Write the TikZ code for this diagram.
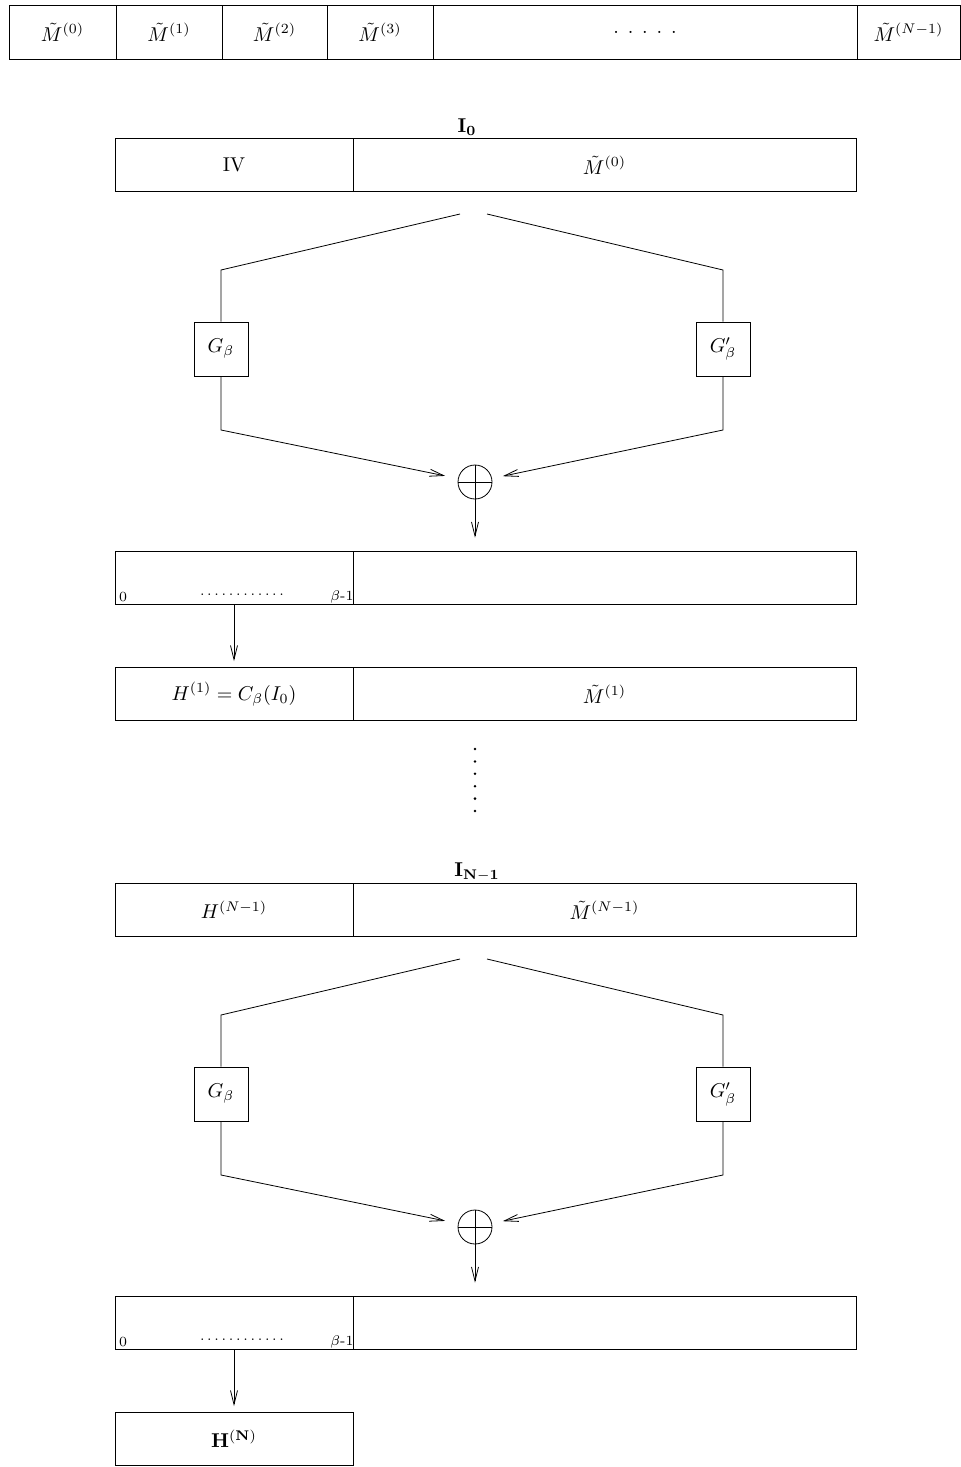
\documentclass[tikz,border=0pt]{standalone}
\usetikzlibrary{arrows.meta}
\tikzset{
	cell/.style={draw, rectangle, inner sep=0pt, minimum height=26.5pt},
	gbox/.style={draw, rectangle, inner sep=0pt, minimum width=27pt, minimum height=27pt},
	xorn/.style={draw, circle, inner sep=0pt, minimum size=17pt,
		path picture={\draw (path picture bounding box.north) -- (path picture bounding box.south)
			(path picture bounding box.west) -- (path picture bounding box.east);}},
	arr/.style={-{Straight Barb[length=7pt,width=3.5pt]}}
}
\newcommand{\bitdot}{.\kern1.35pt}
\newcommand{\bitdots}{\scriptsize\bitdot\bitdot\bitdot\bitdot\bitdot\bitdot\bitdot\bitdot\bitdot\bitdot\bitdot.}
\begin{document}
\begin{tikzpicture}[x=1pt,y=-1pt]
	\useasboundingbox (0,0) rectangle (480.5,733.5);
	\node (m0) at ( 31.25, 16)	[cell, minimum height=27pt, minimum width=53.5pt]	{$\tilde{M}^{(0)}$};
	\node (m1) at ( 84.5, 16)	[cell, minimum height=27pt, minimum width=53pt]	{$\tilde{M}^{(1)}$};
	\node (m2) at (137.25, 16)	[cell, minimum height=27pt, minimum width=52.5pt]	{$\tilde{M}^{(2)}$};
	\node (m3) at (190, 16)	[cell, minimum height=27pt, minimum width=53pt]	{$\tilde{M}^{(3)}$};
	\node (mdots) at (322.5, 16)	[cell, minimum height=27pt, minimum width=212pt]	{. . . . .};
	\node (mlast) at (454.25, 16)	[cell, minimum height=27pt, minimum width=51.5pt]	{$\tilde{M}^{(N-1)}$};
	\node (i0) at (233.5, 63.5)	{$\mathbf{I_0}$};
	\node (iv) at (117, 82.5)	[cell, minimum width=119pt]	{IV};
	\node (x0) at (302.25, 82.5)	[cell, minimum width=251.5pt]	{$\tilde{M}^{(0)}$};
	\coordinate (pl1) at (230, 107);
	\coordinate (pr1) at (243.5, 107);
	\coordinate (cl1) at (110.5, 135);
	\coordinate (cr1) at (361.5, 135);
	\node (g1) at (110.5, 174.5)	[gbox]	{$G_\beta$};
	\node (gp1) at (361.5, 174.5)	[gbox]	{$G'_\beta$};
	\coordinate (dl1) at (110.5, 215);
	\coordinate (dr1) at (361.5, 215);
	\node (xor1) at (237.5, 241)	[xorn]	{};
	\node (lo1) at (117, 288.75)	[cell, minimum width=119pt]	{};
	\node (hi1) at (302.25, 288.75)	[cell, minimum width=251.5pt]	{};
	\node (zero1) at (61.5, 298.5)	{\scriptsize 0};
	\node (bits1) at (121, 297.5)	{\bitdots};
	\node (beta1) at (171, 298.5)	{\scriptsize $\beta$-1};
	\node (h1) at (117, 347)	[cell, minimum width=119pt]	{$H^{(1)} = C_\beta(I_0)$};
	\node (m1b) at (302.25, 347)	[cell, minimum width=251.5pt]	{$\tilde{M}^{(1)}$};
	\draw (pl1) -- (cl1) -- (g1);
	\draw (pr1) -- (cr1) -- (gp1);
	\draw[arr, shorten >=6.5pt] (g1) -- (dl1) -- (xor1);
	\draw[arr, shorten >=5.5pt] (gp1) -- (dr1) -- (xor1);
	\draw[arr, shorten >=6.5pt] (xor1) -- (xor1 |- hi1.north);
	\draw[arr, shorten >=3pt] (lo1.south) -- (h1.north);
	\foreach \k in {0,...,5}
		\fill ({237.5}, {374.5+6.2*\k}) circle (0.7pt);
	\node (iN) at (238.5, 436)	{$\mathbf{I_{N-1}}$};
	\node (hn) at (117, 455)	[cell, minimum width=119pt]	{$H^{(N-1)}$};
	\node (xn) at (302.25, 455)	[cell, minimum width=251.5pt]	{$\tilde{M}^{(N-1)}$};
	\coordinate (pl2) at (230, 479.5);
	\coordinate (pr2) at (243.5, 479.5);
	\coordinate (cl2) at (110.5, 507.5);
	\coordinate (cr2) at (361.5, 507.5);
	\node (g2) at (110.5, 547)	[gbox]	{$G_\beta$};
	\node (gp2) at (361.5, 547)	[gbox]	{$G'_\beta$};
	\coordinate (dl2) at (110.5, 587.5);
	\coordinate (dr2) at (361.5, 587.5);
	\node (xor2) at (237.5, 613.5)	[xorn]	{};
	\node (lo2) at (117, 661.25)	[cell, minimum width=119pt]	{};
	\node (hi2) at (302.25, 661.25)	[cell, minimum width=251.5pt]	{};
	\node (zero2) at (61.5, 671)	{\scriptsize 0};
	\node (bits2) at (121, 670)	{\bitdots};
	\node (beta2) at (171, 671)	{\scriptsize $\beta$-1};
	\node (hN) at (117, 719.5)	[cell, minimum width=119pt]	{$\mathbf{H^{(N)}}$};
	\draw (pl2) -- (cl2) -- (g2);
	\draw (pr2) -- (cr2) -- (gp2);
	\draw[arr, shorten >=6.5pt] (g2) -- (dl2) -- (xor2);
	\draw[arr, shorten >=5.5pt] (gp2) -- (dr2) -- (xor2);
	\draw[arr, shorten >=6.5pt] (xor2) -- (xor2 |- hi2.north);
	\draw[arr, shorten >=3pt] (lo2.south) -- (hN.north);
\end{tikzpicture}
\end{document}
